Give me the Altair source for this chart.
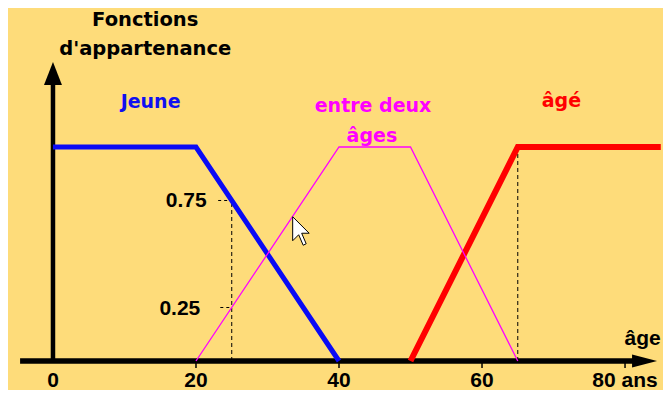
import altair as alt
import pandas as pd

# ---- membership functions (age, membership degree) ----
jeune_x = [0, 20, 40]
jeune_y = [1, 1, 0]
entre_x = [20, 40, 50, 65]
entre_y = [0, 1, 1, 0]
age_x = [50, 65, 85]
age_y = [0, 1, 1]

# ---- axis labels / ticks ----
x_tick_values = [20, 40, 60, 80]
x_label_values = [0, 20, 40, 60, 80]
x_label_texts = ["0", "20", "40", "60", "80 ans"]
y_label_values = [0.75, 0.25]
y_label_texts = ["0.75", "0.25"]
y_label_right = [21.5, 20.6]

# ---- dashed guides ----
vguide_x = [25, 65]
vguide_top = [0.75, 1]
hguide_y = [0.75, 0.25]
hguide_from = [23.1, 23.4]
hguide_to = [25, 25]

# ---- axis geometry (data units) ----
xaxis_from, xaxis_to = -4.6, 81.5
yaxis_top = 1.313
xarrow_pos = [82.73]
yarrow_pos = [1.343]
tick_len = -0.0327
xlabel_base = -0.1215
axis_name = "âge"
axis_name_pos = (85.0, 0.0748)

# ---- texts ----
title_lines = ["Fonctions", "d'appartenance"]
title_y = [1.567, 1.430]
title_x = 12.9
series_texts = ["Jeune", "entre deux", "âges", "âgé"]
series_x = [13.65, 44.76, 44.6, 71.1]
series_y = [1.182, 1.165, 1.025, 1.187]
series_colors = ["#1010F0", "#FF00FF", "#FF00FF", "#FF0000"]
cursor_pos = (35.62, 0.604)

BG = "#FEDC7A"
xs = alt.Scale(domain=[-6.29, 85.31], nice=False, zero=False)
ys = alt.Scale(domain=[-0.1355, 1.6495], nice=False, zero=False)


def X(f):
    return alt.X(f, type="quantitative", scale=xs, axis=None)


def Y(f):
    return alt.Y(f, type="quantitative", scale=ys, axis=None)


# x axis
xaxis = alt.Chart(pd.DataFrame({"x": [xaxis_from], "x2": [xaxis_to], "y": [0]})).mark_rule(
    color="black", strokeWidth=5.5).encode(x=X("x"), x2="x2", y=Y("y"))
xarrow = alt.Chart(pd.DataFrame({"x": xarrow_pos, "y": [0]})).mark_point(
    shape="M 1 0 L -1 -0.52 L -1 0.52 Z", size=625, filled=True, opacity=1,
    color="black", strokeWidth=0).encode(x=X("x"), y=Y("y"))
xticks = alt.Chart(pd.DataFrame({"x": x_tick_values, "y": [0] * 4, "y2": [tick_len] * 4})).mark_rule(
    color="black", strokeWidth=1.5).encode(x=X("x"), y=Y("y"), y2="y2")

# y axis
yaxis = alt.Chart(pd.DataFrame({"x": [0], "y": [0], "y2": [yaxis_top]})).mark_rule(
    color="black", strokeWidth=4.5).encode(x=X("x"), y=Y("y"), y2="y2")
yarrow = alt.Chart(pd.DataFrame({"x": [0], "y": yarrow_pos})).mark_point(
    shape="M 0 -1 L 0.78 1 L -0.78 1 Z", size=529, filled=True, opacity=1,
    color="black", strokeWidth=0).encode(x=X("x"), y=Y("y"))

# dashed guides
vguides = alt.Chart(pd.DataFrame({"x": vguide_x, "y": [0, 0], "y2": vguide_top})).mark_rule(
    color="black", strokeWidth=1, strokeDash=[4, 3]).encode(x=X("x"), y=Y("y"), y2="y2")
hguides = alt.Chart(pd.DataFrame({"x": hguide_from, "x2": hguide_to, "y": hguide_y})).mark_rule(
    color="black", strokeWidth=1, strokeDash=[3, 3]).encode(x=X("x"), x2="x2", y=Y("y"))

# membership lines
jeune = alt.Chart(pd.DataFrame({"x": jeune_x, "y": jeune_y})).mark_line(
    color="#0A0AF5", strokeWidth=5).encode(x=X("x"), y=Y("y"))
age = alt.Chart(pd.DataFrame({"x": age_x, "y": age_y})).mark_line(
    color="#FF0000", strokeWidth=6).encode(x=X("x"), y=Y("y"))
entre = alt.Chart(pd.DataFrame({"x": entre_x, "y": entre_y})).mark_line(
    color="#FF00FF", strokeWidth=1.3).encode(x=X("x"), y=Y("y"))

# labels
xlabels = alt.Chart(pd.DataFrame({"x": x_label_values, "y": [xlabel_base] * 5, "t": x_label_texts})).mark_text(
    font="Liberation Sans", fontSize=21, fontWeight="bold", color="black",
    align="center", baseline="alphabetic").encode(x=X("x"), y=Y("y"), text="t:N")
ylabels = alt.Chart(pd.DataFrame({"x": y_label_right, "y": y_label_values, "t": y_label_texts})).mark_text(
    font="Liberation Sans", fontSize=21, fontWeight="bold", color="black",
    align="right", baseline="middle", dy=1).encode(x=X("x"), y=Y("y"), text="t:N")
agelabel = alt.Chart(pd.DataFrame({"x": [axis_name_pos[0]], "y": [axis_name_pos[1]], "t": [axis_name]})).mark_text(
    font="Liberation Sans", fontSize=21, fontWeight="bold", color="black",
    align="right", baseline="alphabetic").encode(x=X("x"), y=Y("y"), text="t:N")
title = alt.Chart(pd.DataFrame({"x": [title_x, title_x], "y": title_y, "t": title_lines})).mark_text(
    font="DejaVu Sans", fontSize=19.5, fontWeight="bold", color="black",
    align="center", baseline="alphabetic").encode(x=X("x"), y=Y("y"), text="t:N")
series = alt.Chart(pd.DataFrame({"x": series_x, "y": series_y, "t": series_texts, "c": series_colors})).mark_text(
    font="DejaVu Sans", fontSize=19, fontWeight="bold",
    align="center", baseline="alphabetic").encode(
    x=X("x"), y=Y("y"), text="t:N", color=alt.Color("c:N", scale=None))

cursor = alt.Chart(pd.DataFrame({"x": [cursor_pos[0]], "y": [cursor_pos[1]]})).mark_point(
    shape="M -1 -1 L -1 0.6 L -0.6 0.2 L -0.3 0.9 L -0.1 0.8 L -0.4 0.1 L 0.1 0.1 Z",
    size=900, filled=True, opacity=1, fill="white", stroke="black", strokeWidth=1).encode(
    x=X("x"), y=Y("y"))

chart = alt.layer(
    xaxis, xticks, xarrow, yaxis, yarrow, vguides, hguides,
    jeune, age, entre, xlabels, ylabels, agelabel, title, series, cursor
).properties(
    width=655, height=382, background=BG, padding=0,
    autosize=alt.AutoSizeParams(type="none")
).configure_view(stroke=None)

chart.save("out.html", embed_options={"renderer": "svg", "actions": False})
